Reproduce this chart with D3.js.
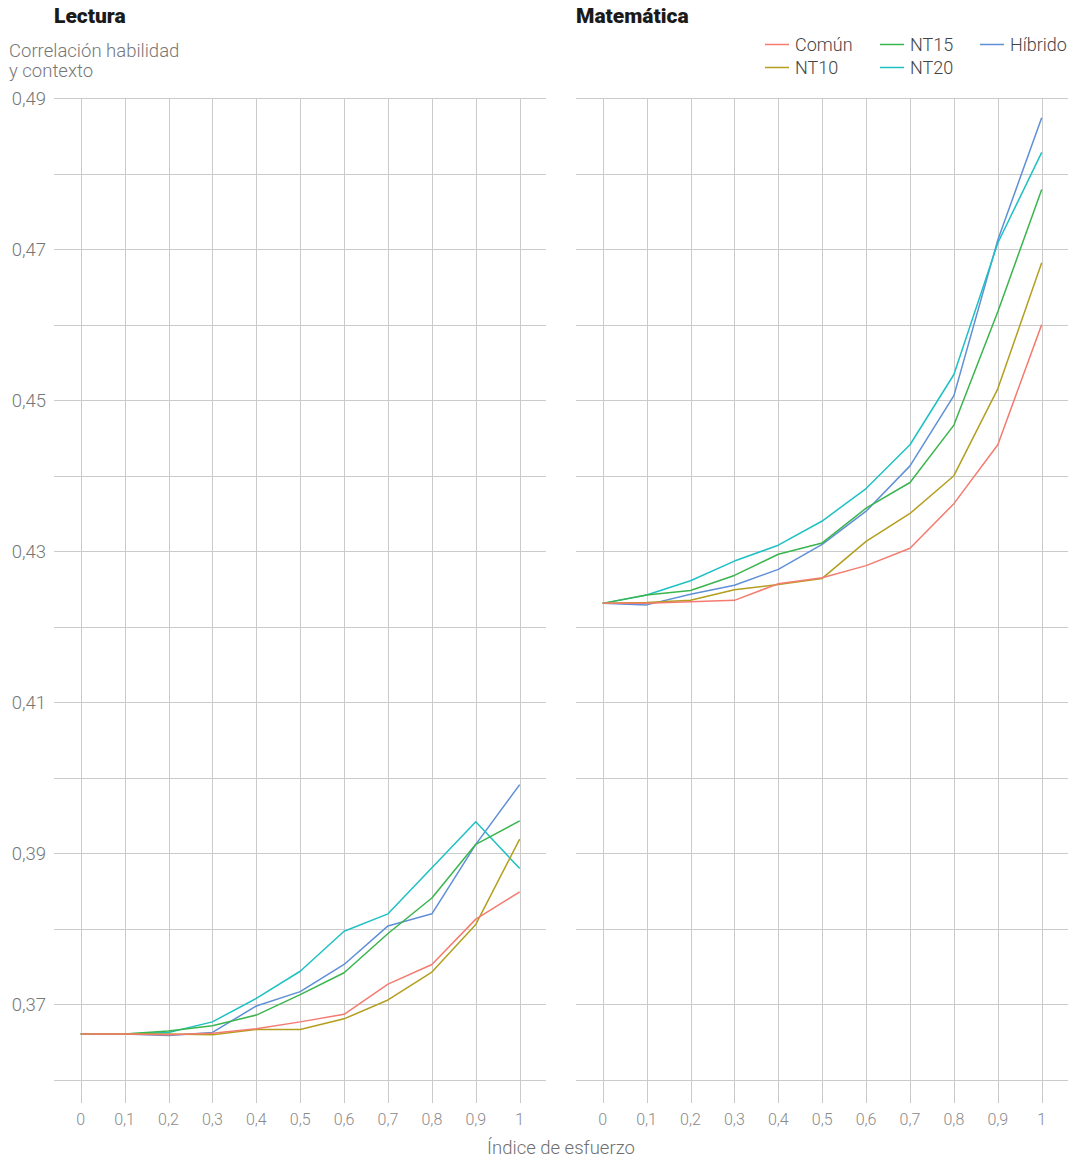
<!DOCTYPE html>
<html>
<head>
<meta charset="utf-8">
<script src="https://cdn.jsdelivr.net/npm/d3@7"></script>
<style>
  html, body { margin: 0; padding: 0; background: #fff; }
  svg { display: block; font-family: Roboto, "Noto Sans", sans-serif; }
</style>
</head>
<body>
<svg id="chart" width="1076" height="1160"></svg>
<script>
// Effort index on the x axis
const efforts = [0, 0.1, 0.2, 0.3, 0.4, 0.5, 0.6, 0.7, 0.8, 0.9, 1];
const xTicks = [0, 0.1, 0.2, 0.3, 0.4, 0.5, 0.6, 0.7, 0.8, 0.9, 1];
const yGrid = [0.36, 0.37, 0.38, 0.39, 0.40, 0.41, 0.42, 0.43, 0.44, 0.45, 0.46, 0.47, 0.48, 0.49];
const yLabels = [0.37, 0.39, 0.41, 0.43, 0.45, 0.47, 0.49];

const seriesNames = ["Común", "NT10", "NT15", "NT20", "Híbrido"];
const seriesColors = ["#F47B70", "#B39E1E", "#3AB54D", "#1FC0C4", "#5F8FD6"];

// Lectura: correlation between ability and context by effort index
const lecturaComun   = [0.3661, 0.3661, 0.3660, 0.3662, 0.3668, 0.3677, 0.3687, 0.3727, 0.3753, 0.3813, 0.3849];
const lecturaNT10    = [0.3661, 0.3661, 0.3661, 0.3660, 0.3667, 0.3667, 0.3681, 0.3706, 0.3743, 0.3806, 0.3919];
const lecturaNT15    = [0.3661, 0.3661, 0.3665, 0.3672, 0.3686, 0.3713, 0.3742, 0.3794, 0.3841, 0.3912, 0.3943];
const lecturaNT20    = [0.3661, 0.3661, 0.3663, 0.3677, 0.3708, 0.3744, 0.3797, 0.3820, 0.3881, 0.3942, 0.3880];
const lecturaHibrido = [0.3661, 0.3661, 0.3659, 0.3663, 0.3698, 0.3717, 0.3753, 0.3804, 0.3820, 0.3912, 0.3991];

// Matemática
const mateComun   = [0.4231, 0.4231, 0.4233, 0.4235, 0.4257, 0.4265, 0.4281, 0.4304, 0.4363, 0.4441, 0.4600];
const mateNT10    = [0.4231, 0.4232, 0.4235, 0.4249, 0.4256, 0.4264, 0.4313, 0.4350, 0.4400, 0.4515, 0.4682];
const mateNT15    = [0.4231, 0.4242, 0.4248, 0.4268, 0.4296, 0.4311, 0.4357, 0.4391, 0.4467, 0.4617, 0.4779];
const mateNT20    = [0.4231, 0.4242, 0.4261, 0.4287, 0.4308, 0.4340, 0.4383, 0.4441, 0.4534, 0.4708, 0.4828];
const mateHibrido = [0.4231, 0.4229, 0.4243, 0.4255, 0.4276, 0.4309, 0.4353, 0.4413, 0.4506, 0.4712, 0.4874];

const panels = [
  { title: "Lectura", series: [lecturaComun, lecturaNT10, lecturaNT15, lecturaNT20, lecturaHibrido] },
  { title: "Matemática", series: [mateComun, mateNT10, mateNT15, mateNT20, mateHibrido] }
];

const locale = d3.formatLocale({ decimal: ",", thousands: ".", grouping: [3], currency: ["", "€"] });
const fmtX = v => v === 0 || v === 1 ? String(v) : locale.format(".1f")(v);
const fmtY = locale.format(".2f");

const svg = d3.select("#chart");

const panelW = 492;
const panelX = [54, 576];
const plotTop = 98, plotBottom = 1103;

const y = d3.scaleLinear().domain([0.35696, 0.49]).range([plotBottom, plotTop]);
const x = d3.scaleLinear().domain([0, 1]).range([26.7, 465.7]);

const gridColor = "#cbcbcb";

panels.forEach((p, pi) => {
  const g = svg.append("g").attr("transform", `translate(${panelX[pi]},0)`);

  // title
  g.append("text")
    .attr("x", 0).attr("y", 23)
    .attr("font-size", 21).attr("font-weight", 900)
    .attr("fill", "#1a1a1a")
    .text(p.title);

  // horizontal grid
  g.append("g").selectAll("line").data(yGrid).join("line")
    .attr("x1", 0).attr("x2", panelW)
    .attr("y1", d => Math.round(y(d)) + 0.5).attr("y2", d => Math.round(y(d)) + 0.5)
    .attr("stroke", gridColor).attr("stroke-width", 1);

  // vertical grid
  g.append("g").selectAll("line").data(xTicks).join("line")
    .attr("x1", d => Math.round(x(d)) + 0.5).attr("x2", d => Math.round(x(d)) + 0.5)
    .attr("y1", y(0.49)).attr("y2", plotBottom)
    .attr("stroke", gridColor).attr("stroke-width", 1);

  // x tick labels
  g.append("g").selectAll("text").data(xTicks).join("text")
    .attr("x", d => x(d)).attr("y", 1125)
    .attr("text-anchor", "middle")
    .attr("font-size", 16).attr("font-weight", 300)
    .attr("fill", "#8a8a8a")
    .text(fmtX);

  // lines (first series drawn on top)
  const line = d3.line().x((d, i) => x(efforts[i])).y(d => y(d));
  const order = d3.range(p.series.length).reverse();
  g.append("g").selectAll("path").data(order).join("path")
    .attr("d", i => line(p.series[i]))
    .attr("fill", "none")
    .attr("stroke", i => seriesColors[i])
    .attr("stroke-width", 1.5)
    .attr("stroke-linejoin", "round");
});

// y tick labels (left panel only)
svg.append("g").selectAll("text").data(yLabels).join("text")
  .attr("x", 46).attr("y", d => y(d) + 6.5)
  .attr("text-anchor", "end")
  .attr("font-size", 18.5).attr("font-weight", 300)
  .attr("fill", "#777")
  .text(fmtY);

// y axis title
const yTitle = svg.append("text")
  .attr("x", 9).attr("y", 57)
  .attr("font-size", 18.5).attr("font-weight", 300)
  .attr("fill", "#777");
yTitle.append("tspan").attr("x", 9).text("Correlación habilidad");
yTitle.append("tspan").attr("x", 9).attr("dy", 20).text("y contexto");

// x axis title
svg.append("text")
  .attr("x", 561).attr("y", 1154)
  .attr("text-anchor", "middle")
  .attr("font-size", 18.5).attr("font-weight", 300)
  .attr("fill", "#6f6f6f")
  .text("Índice de esfuerzo");

// legend
const legendPos = [[765, 44], [765, 67], [880, 44], [880, 67], [980, 44]];
const lg = svg.append("g").selectAll("g").data(seriesNames).join("g")
  .attr("transform", (d, i) => `translate(${legendPos[i][0]},${legendPos[i][1]})`);
lg.append("line")
  .attr("x1", 0).attr("x2", 24).attr("y1", 0.5).attr("y2", 0.5)
  .attr("stroke", (d, i) => seriesColors[i]).attr("stroke-width", 1.5);
lg.append("text")
  .attr("x", 30).attr("y", 6.5)
  .attr("font-size", 18).attr("font-weight", 300)
  .attr("fill", "#444")
  .text(d => d);
</script>
</body>
</html>
